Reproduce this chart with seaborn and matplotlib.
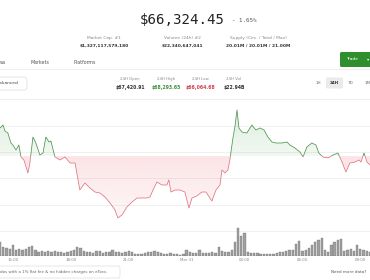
import numpy as np
import pandas as pd
import matplotlib
matplotlib.use("Agg")
import matplotlib.pyplot as plt
from matplotlib.patches import Rectangle, FancyBboxPatch
from matplotlib.lines import Line2D
from matplotlib.path import Path
import matplotlib.transforms as mtransforms
import seaborn as sns

# ---------------- data ----------------
price_hours = [14.33, 14.49, 14.59, 14.74, 14.90, 15.00, 15.16, 15.31, 15.42, 15.57,
               15.78, 15.88, 16.04, 16.19, 16.40, 16.56, 16.71, 16.87, 16.97, 17.18,
               17.44, 17.70, 17.96, 18.22, 18.47, 18.73, 18.99, 19.25, 19.51, 19.77,
               20.03, 20.29, 20.44, 20.65, 20.91, 21.17, 21.43, 21.69, 21.94, 22.10,
               22.26, 22.46, 22.72, 22.98, 23.08, 23.19, 23.40, 23.65, 23.91, 24.12,
               24.28, 24.53, 24.79, 25.00, 25.31, 25.52, 25.73, 25.83, 25.99, 26.14,
               26.24, 26.40, 26.50, 26.61, 26.71, 26.87, 27.12, 27.38, 27.59, 27.80,
               28.01, 28.21, 28.42, 28.63, 28.94, 29.20, 29.35, 29.61, 29.87, 30.03,
               30.23, 30.49, 30.70, 30.85, 31.06, 31.32, 31.58, 31.84, 32.05, 32.25,
               32.46, 32.72, 32.93, 33.03, 33.19, 33.34, 33.50]
price_usd = [67953, 68009, 67896, 67858, 67670, 67632, 67538, 67632, 67406, 67349,
             67104, 67292, 67783, 67670, 67443, 67481, 67783, 67689, 67708, 67406,
             67349, 67406, 67292, 67292, 66783, 66915, 66821, 66745, 66726, 66651,
             66538, 66406, 66255, 66311, 66462, 66556, 66632, 66632, 66632, 66651,
             66783, 66934, 66877, 66877, 66972, 66745, 66783, 66783, 66745, 66443,
             66632, 66670, 66745, 66745, 66575, 66783, 66877, 67160, 67104, 67160,
             67349, 67764, 67972, 68292, 67953, 67877, 67858, 68009, 67915, 67953,
             67915, 67783, 67689, 67670, 67670, 67689, 67632, 67575, 67500, 67406,
             67594, 67670, 67632, 67481, 67406, 67387, 67443, 67481, 67311, 67123,
             67292, 67311, 67349, 67311, 67481, 67311, 67255]
open_price = 67420.91

vol_start_hour = 14.333
vol_step_hours = 1 / 6
vol_values = [14, 9, 8, 7, 11, 6, 7, 6, 7, 9, 10, 6, 4, 5, 4, 5, 4, 5, 4, 4,
              3, 4, 5, 6, 9, 8, 5, 4, 4, 3, 5, 5, 3, 4, 4, 6, 4, 4, 3, 4,
              5, 4, 2, 2, 2, 3, 4, 4, 5, 4, 3, 2, 2, 3, 2, 2, 1, 2, 6, 4,
              3, 3, 6, 3, 3, 3, 4, 3, 9, 5, 4, 4, 6, 14, 28, 20, 23, 4, 3, 3,
              3, 2, 2, 2, 2, 2, 3, 4, 4, 5, 6, 6, 12, 15, 5, 6, 8, 11, 14, 16,
              18, 6, 4, 11, 14, 16, 17, 5, 6, 7, 5, 11, 7, 6, 5, 4]

tick_hours = [15, 18, 21, 24, 27, 30, 33]
tick_labels = ["15:00", "18:00", "21:00", "Mar 31", "03:00", "06:00", "09:00"]
grid_prices = [68000, 67500, 67000, 66500, 66000]

header_price = "$66,324.45"
header_change = "- 1.65%"
stat_labels = ["Market Cap. #1", "Volume (24h) #2", "Supply (Circ. / Total / Max)"]
stat_values = ["$1,327,117,579,180", "$22,340,647,041", "20.01M / 20.01M / 21.00M"]
day_labels = ["24H Open", "24H High", "24H Low", "24H Vol"]
day_values = ["$67,420.91", "$68,293.65", "$66,064.68", "$22.94B"]
tab_labels = ["ws", "Markets", "Platforms"]
range_labels = ["1H", "24H", "7D", "1M"]

# ---------------- style ----------------
sns.set_theme(style="white")
plt.rcParams["font.family"] = ["DejaVu Sans"]

W, H = 370, 280
GREEN = "#4f944f"
RED = "#e07482"

fig = plt.figure(figsize=(W / 100, H / 100), dpi=100)
fig.patch.set_facecolor("white")
# pixel transform, origin top-left
T = mtransforms.Affine2D().scale(1 / 100, -1 / 100).translate(0, H / 100) + fig.dpi_scale_trans


def txt(x, y, s, size, color="#333", ha="center", weight="normal", family=None):
    kw = {}
    if family:
        kw["family"] = family
    fig.text(x, y, s, transform=T, fontsize=size, color=color, ha=ha, va="center",
             fontweight=weight, **kw)


def hline(y, x0=0, x1=W, color="#e8e8e8", lw=0.5):
    fig.add_artist(Line2D([x0, x1], [y, y], transform=T, color=color, lw=lw))


def box(x0, y0, x1, y1, face="white", edge="none", lw=0.5, r=2):
    fig.add_artist(FancyBboxPatch((x0, y0), x1 - x0, y1 - y0,
                                  boxstyle=f"round,pad=0,rounding_size={r}",
                                  transform=T, facecolor=face, edgecolor=edge, lw=lw))


# ---------------- header ----------------
txt(182, 20, header_price, 10.2, color="#222", family="DejaVu Sans Mono")
txt(232, 20, header_change, 4.2, color="#555", ha="left", family="DejaVu Sans Mono")
for cx, lab, val in zip([104, 182, 258], stat_labels, stat_values):
    txt(cx, 38, lab, 3.2, color="#888")
    txt(cx, 46, val, 3.2, color="#333", weight="bold")

for cx, lab in zip([3, 40, 85], tab_labels):
    txt(cx, 62, lab, 3.4, color="#555")
hline(68.5)

box(340, 52, 375, 67, face="#2f8f2f", r=1.5)
txt(352, 59.5, "Trade", 3.2, color="white")
txt(368, 59.5, "\u25BE", 3.2, color="white")

box(-6, 77, 27, 90, face="white", edge="#dcdcdc", lw=0.5, r=3)
txt(0, 83.5, "dvanced", 3.2, color="#444", ha="left")

day_colors = ["#333", "#3d913d", "#d23c4e", "#333"]
for cx, lab, val, c in zip([130, 166, 200, 234], day_labels, day_values, day_colors):
    txt(cx, 79, lab, 2.8, color="#888")
    txt(cx, 87, val, 3.3, color=c, weight="bold")

box(326, 77.5, 343, 88.5, face="#ebebeb", r=1.5)
for cx, lab in zip([318, 334.5, 351, 368], range_labels):
    txt(cx, 83, lab, 3.0, color="#333" if lab == "24H" else "#666",
        weight="bold" if lab == "24H" else "normal")
hline(99)

# ---------------- price chart ----------------
px_per_usd = 1 / 18.87
top_px, bot_px = 100, 256
y_top = 68000 + (125.5 - top_px) / px_per_usd
y_bot = 68000 - (bot_px - 125.5) / px_per_usd
x_min, x_max = 14.333, 33.5

ax = fig.add_axes([0, 1 - bot_px / H, 1, (bot_px - top_px) / H])
ax.set_axis_off()
for g in grid_prices:
    ax.axhline(g, color="#eeeeee", lw=0.6, zorder=0)

t_arr = np.array(price_hours)
p_arr = np.array(price_usd, dtype=float)


def grad_fill(where, color, a_top, a_bot, yt, yb):
    coll = ax.fill_between(t_arr, p_arr, open_price, where=where, interpolate=True,
                           facecolor="none", edgecolor="none")
    rgb = matplotlib.colors.to_rgb(color)
    n = 200
    img = np.zeros((n, 2, 4))
    img[:, :, :3] = rgb
    img[:, :, 3] = np.linspace(a_top, a_bot, n)[:, None]
    im = ax.imshow(img, aspect="auto", extent=[x_min, x_max, yb, yt], origin="upper",
                   zorder=1, interpolation="bilinear")
    path = Path.make_compound_path(*coll.get_paths())
    im.set_clip_path(path, ax.transData)


grad_fill(p_arr >= open_price, "#3f9a3f", 0.17, 0.07, 68300, open_price)
grad_fill(p_arr <= open_price, "#e8485a", 0.15, 0.04, open_price, 66200)

sns.lineplot(x=price_hours, y=price_usd, ax=ax, color=GREEN, lw=0.55, zorder=3)
ln_g = ax.lines[-1]
ln_g.set_clip_path(Rectangle((x_min, open_price), x_max - x_min, 5000, transform=ax.transData))
sns.lineplot(x=price_hours, y=price_usd, ax=ax, color=RED, lw=0.55, zorder=3)
ln_r = ax.lines[-1]
ln_r.set_clip_path(Rectangle((x_min, open_price - 5000), x_max - x_min, 5000, transform=ax.transData))

ax.set_xlim(x_min, x_max)
ax.set_ylim(y_bot, y_top)

# ---------------- volume ----------------
vol_hours = [vol_start_hour + i * vol_step_hours for i in range(len(vol_values))]
vol_top_px = 222
axv = fig.add_axes([0, 1 - bot_px / H, 1, (bot_px - vol_top_px) / H])
axv.patch.set_alpha(0)
sns.barplot(x=vol_hours, y=vol_values, native_scale=True, color="#a0a0a0",
            edgecolor="#707070", linewidth=0.25, saturation=1, errorbar=None,
            width=0.7, ax=axv)
axv.set_xlim(x_min, x_max)
axv.set_ylim(0, bot_px - vol_top_px)
for s in axv.spines.values():
    s.set_visible(False)
axv.set_yticks([])
axv.set_ylabel("")
axv.set_xlabel("")
axv.set_xticks(tick_hours)
axv.set_xticklabels(tick_labels)
axv.tick_params(axis="x", length=0, pad=1.6, labelsize=2.8, labelcolor="#888")

# ---------------- footer ----------------
box(-6, 266, 120, 278, face="white", edge="#dedede", lw=0.5, r=2)
txt(0, 272, "dos with a 1% flat fee & no hidden charges on eToro.", 2.9, color="#666", ha="left")
txt(331, 272, "Need more data?", 3.0, color="#555", ha="left")

fig.savefig("out.png", dpi=100, facecolor="white")
